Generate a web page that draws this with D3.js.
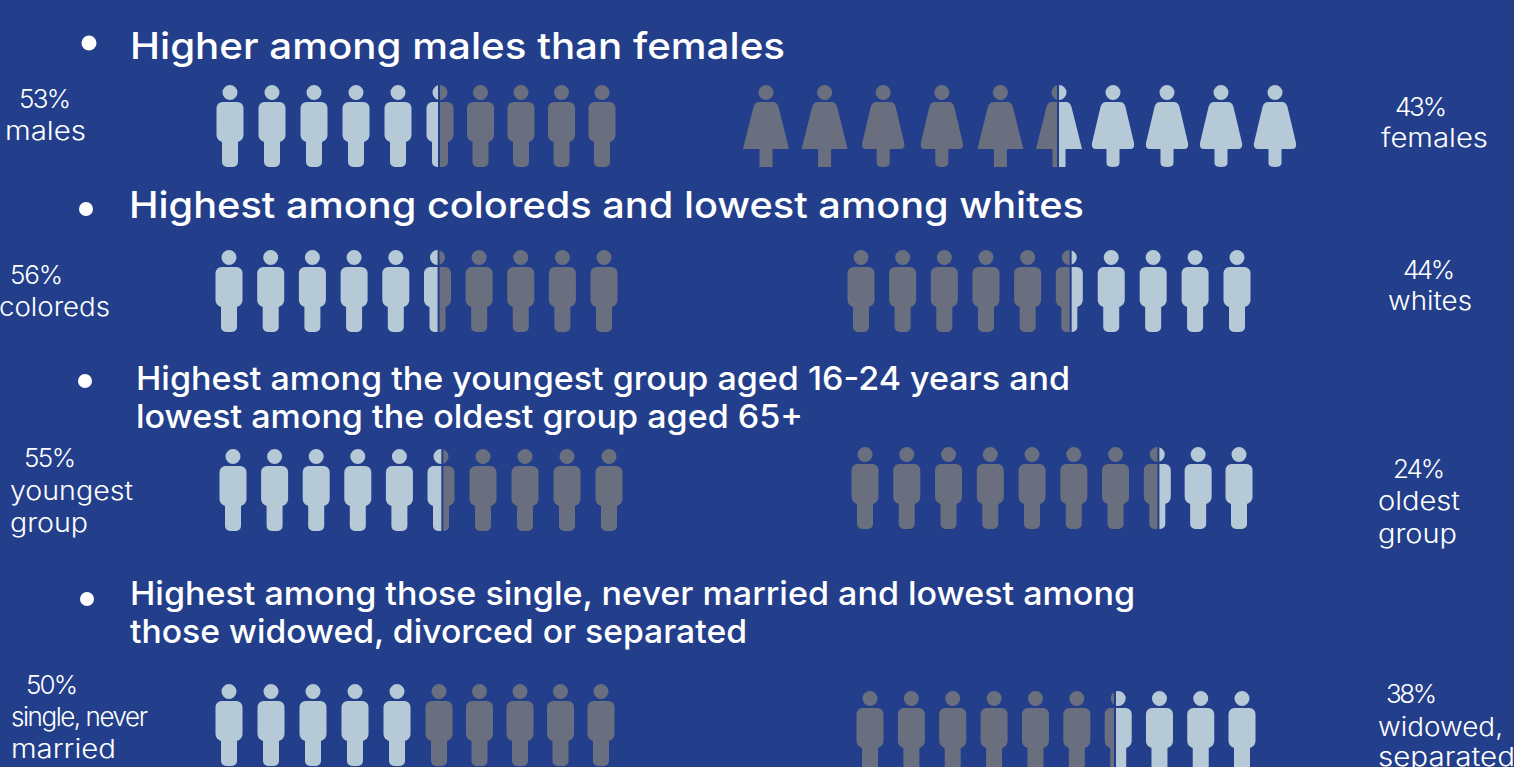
<!DOCTYPE html>
<html>
<head>
<meta charset="utf-8">
<script src="https://cdnjs.cloudflare.com/ajax/libs/d3/7.8.5/d3.min.js"></script>
<style>
  html, body { margin: 0; padding: 0; background: #233f8b; overflow: hidden; }
  svg { display: block; }
  text { font-family: Inter, "Noto Sans", sans-serif; fill: #fff; }
</style>
</head>
<body>
<svg id="chart"></svg>
<script>
// values
const headings = [
  ['Higher among males than females'],
  ['Highest among coloreds and lowest among whites'],
  ['Highest among the youngest group aged 16-24 years and', 'lowest among the oldest group aged 65+'],
  ['Highest among those single, never married and lowest among', 'those widowed, divorced or separated']
];
const leftLabels = [
  ['53%', 'males'],
  ['56%', 'coloreds'],
  ['55%', 'youngest', 'group'],
  ['50%', 'single, never', 'married']
];
const rightLabels = [
  ['43%', 'females'],
  ['44%', 'whites'],
  ['24%', 'oldest', 'group'],
  ['38%', 'widowed,', 'separated']
];
// how many icons are filled up to the split, counted from the left
const leftSplit = [5.46, 5.54, 5.55, 5];
const rightSplit = [5.48, 5.55, 7.54, 6.38];
const iconCount = 10;

const width = 1514, height = 767;
const bg = '#233f8b', light = '#b5c9d6', dark = '#6a6f7f';

// layout per row: icon centres at first / split / last icon, top of each group,
// label boxes as [x, baseline, width]
const layout = [
  { hx: 130, hy: [59], hs: 36.5, hw: [655], bx: 89, by: 43, br: 7.5,
    lx: [230, 440, 602], ly: 85, rx: [766, 1059, 1275], ry: 85,
    lt: [[19, 108, 52], [5, 140, 81]], rt: [[1395, 116, 52], [1381, 147, 107]] },
  { hx: 129, hy: [218], hs: 36.5, hw: [955], bx: 86, by: 209, br: 7,
    lx: [229, 437.5, 604], ly: 250, rx: [861, 1069.3, 1237], ry: 250,
    lt: [[10, 284, 53], [-1, 316, 111]], rt: [[1403, 279, 52], [1388, 310, 84]] },
  { hx: 136, hy: [390, 428], hs: 33, hw: [934, 667], bx: 85, by: 381, br: 7,
    lx: [233, 441, 609], ly: 449, rx: [865, 1157.3, 1239], ry: 447,
    lt: [[24, 467, 52], [10, 500, 123], [10, 532, 78]],
    rt: [[1393, 478, 52], [1378, 510, 82], [1378, 543, 79]] },
  { hx: 130, hy: [605, 643], hs: 33, hw: [1005, 617], bx: 87, by: 599, br: 7,
    lx: [229, 439, 601], ly: 684, rx: [870, 1118.2, 1242], ry: 691,
    lt: [[26, 694, 52], [11, 726, 137], [11, 758, 105]],
    rt: [[1386, 703, 51], [1378, 736, 125], [1378, 766, 137]] }
];

const svg = d3.select('#chart')
  .attr('width', width)
  .attr('height', height)
  .attr('viewBox', `0 0 ${width} ${height}`);

svg.append('rect').attr('width', width).attr('height', height).attr('fill', bg);
const defs = svg.append('defs');

function malePath() {
  const p = d3.path();
  // head
  p.moveTo(7.5, 7.5);
  p.arc(0, 7.5, 7.5, 0, 2 * Math.PI);
  // body and leg
  p.moveTo(-7.5, 17);
  p.lineTo(7.5, 17);
  p.arcTo(13.5, 17, 13.5, 23, 6);
  p.lineTo(13.5, 50);
  p.quadraticCurveTo(13.5, 55, 8, 57);
  p.lineTo(8, 76);
  p.arcTo(8, 82, 2, 82, 5);
  p.lineTo(-3, 82);
  p.arcTo(-8, 82, -8, 76, 5);
  p.lineTo(-8, 57);
  p.quadraticCurveTo(-13.5, 55, -13.5, 50);
  p.lineTo(-13.5, 23);
  p.arcTo(-13.5, 17, -7.5, 17, 6);
  p.closePath();
  return p.toString();
}

function femalePath(rounded) {
  const r = rounded ? 4 : 0;
  const p = d3.path();
  p.moveTo(7, 7.5);
  p.arc(0, 7.5, 7.5, 0, 2 * Math.PI);
  p.moveTo(-7, 17);
  p.lineTo(7, 17);
  p.quadraticCurveTo(11, 17, 12.5, 22);
  if (rounded) {
    p.lineTo(21, 58);
    p.quadraticCurveTo(22, 64, 17, 64);
  } else {
    p.lineTo(23, 64);
  }
  p.lineTo(6.5, 64);
  p.lineTo(6.5, 82 - r);
  if (rounded) p.quadraticCurveTo(6.5, 82, 0, 82), p.quadraticCurveTo(-6.5, 82, -6.5, 82 - r);
  else p.lineTo(-6.5, 82);
  p.lineTo(-6.5, 64);
  if (rounded) {
    p.lineTo(-17, 64);
    p.quadraticCurveTo(-22, 64, -21, 58);
  } else {
    p.lineTo(-23, 64);
  }
  p.lineTo(-12.5, 22);
  p.quadraticCurveTo(-11, 17, -7, 17);
  p.closePath();
  return p.toString();
}

// sharp cornered women in the first row of the source
const sharpFemales = new Set([0, 1, 4, 5]);
let clipId = 0;

function drawRow(pos, y, split, leftColor, rightColor, iconFor, iconWidth) {
  const xScale = d3.scaleLinear().domain([0, Math.floor(split), iconCount - 1]).range(pos);
  const g = svg.append('g');
  d3.range(iconCount).forEach(i => {
    const icon = g.append('g').attr('transform', `translate(${xScale(i)},${y})`);
    const frac = Math.max(0, Math.min(1, split - i));
    if (frac === 0 || frac === 1) {
      icon.append('path').attr('d', iconFor(i)).attr('fill', frac === 1 ? leftColor : rightColor);
      return;
    }
    const sx = -iconWidth / 2 + frac * iconWidth;
    const idA = `clip-${clipId++}`, idB = `clip-${clipId++}`;
    defs.append('clipPath').attr('id', idA).append('rect')
      .attr('x', -40).attr('y', -5).attr('width', 40 + sx - 1).attr('height', 95);
    defs.append('clipPath').attr('id', idB).append('rect')
      .attr('x', sx + 1).attr('y', -5).attr('width', 40).attr('height', 95);
    icon.append('path').attr('d', iconFor(i)).attr('fill', leftColor).attr('clip-path', `url(#${idA})`);
    icon.append('path').attr('d', iconFor(i)).attr('fill', rightColor).attr('clip-path', `url(#${idB})`);
  });
}

function sideLabel(line, box) {
  const t = svg.append('text').attr('x', box[0]).attr('y', box[1])
    .attr('font-size', 26).attr('font-weight', 300)
    .text(line);
  // squeezing the glyphs looks wrong, so tighten the spacing when the line is too long
  const natural = t.node().getComputedTextLength();
  t.attr('textLength', box[2])
    .attr('lengthAdjust', natural > box[2] ? 'spacing' : 'spacingAndGlyphs');
}

layout.forEach((row, r) => {
  // bullet
  svg.append('circle').attr('cx', row.bx).attr('cy', row.by).attr('r', row.br).attr('fill', '#fff');

  // heading
  headings[r].forEach((line, i) => {
    svg.append('text')
      .attr('x', row.hx).attr('y', row.hy[i])
      .attr('font-size', row.hs).attr('font-weight', 500)
      .attr('textLength', row.hw[i]).attr('lengthAdjust', 'spacingAndGlyphs')
      .text(line);
  });

  // side labels
  leftLabels[r].forEach((line, i) => sideLabel(line, row.lt[i]));
  rightLabels[r].forEach((line, i) => sideLabel(line, row.rt[i]));

  // icons: left block is lit then dark, right block is dark then lit
  drawRow(row.lx, row.ly, leftSplit[r], light, dark, () => malePath(), 27);
  if (r === 0) {
    drawRow(row.rx, row.ry, rightSplit[r], dark, light, i => femalePath(!sharpFemales.has(i)), 46);
  } else {
    drawRow(row.rx, row.ry, rightSplit[r], dark, light, () => malePath(), 27);
  }
});
</script>
</body>
</html>
